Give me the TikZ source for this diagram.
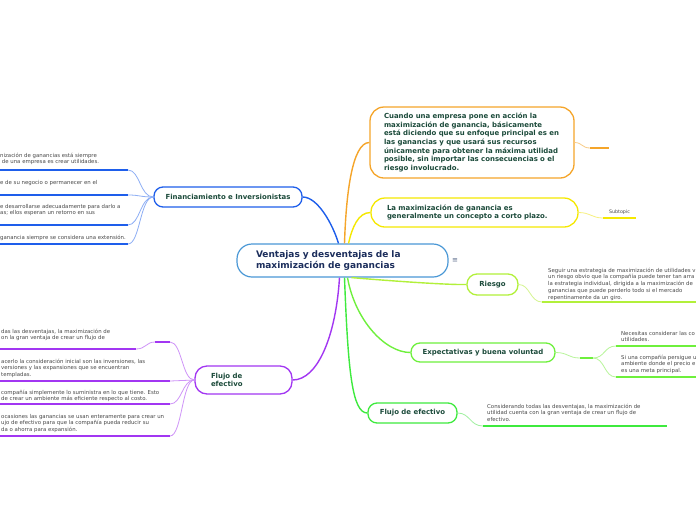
\documentclass[tikz,border=0pt]{standalone}
\usepackage{fontspec}
\setmainfont{DejaVu Sans}
\definecolor{ttxt}{HTML}{1B4A3A}
\definecolor{navy}{HTML}{1C2E5C}
\definecolor{gtxt}{HTML}{4A4A4A}
\definecolor{cblue}{HTML}{4A98D6}
\definecolor{fblue}{HTML}{1E5EEB}
\definecolor{fblueL}{HTML}{8DAEF5}
\definecolor{orng}{HTML}{F5A52A}
\definecolor{orngL}{HTML}{F8CC88}
\definecolor{yel}{HTML}{F5E800}
\definecolor{yelL}{HTML}{F7F080}
\definecolor{lime}{HTML}{B2F03A}
\definecolor{limeL}{HTML}{D5F590}
\definecolor{grn}{HTML}{6EF03C}
\definecolor{grnL}{HTML}{B8F59A}
\definecolor{grn2}{HTML}{3EEA3E}
\definecolor{grn2L}{HTML}{A0F0A0}
\definecolor{purp}{HTML}{A236F2}
\definecolor{purpL}{HTML}{CF94F8}
\definecolor{symb}{HTML}{5A6A8A}
\tikzset{
  topic/.style={draw, fill=white, line width=1.3pt, rounded corners=9pt, inner sep=0pt,
    font=\fontsize{6.95}{8.7}\selectfont\bfseries, text=ttxt, align=center},
  smalltxt/.style={inner sep=0pt, anchor=north west, align=left,
    font=\fontsize{5.4}{6.7}\selectfont, text=gtxt},
  bar/.style={line width=2.2pt},
  conn/.style={line width=1.4pt},
  subconn/.style={line width=0.8pt}
}
\begin{document}
\begin{tikzpicture}[x=1pt,y=-1pt]
\useasboundingbox (0,0) rectangle (696,520);
\fill[white] (0,0) rectangle (696,520);

% main topics
\node[topic, draw=cblue, line width=1.2pt, rounded corners=15pt, minimum width=211pt, minimum height=33pt,
  text width=173pt, align=left, text=navy, font=\fontsize{9}{11}\selectfont\bfseries] (c) at (342.5,260.5)
  {Ventajas y desventajas de la\\maximización de ganancias};
\node[text=symb, font=\fontsize{7}{8}\selectfont, inner sep=0pt] (menu) at (455,261) {≡};

\node[topic, draw=orng, rounded corners=14pt, minimum width=204pt, minimum height=71pt, text width=176pt, align=left] (o) at (472,142.5)
  {Cuando una empresa pone en acción la\\maximización de ganancia, básicamente\\está diciendo que su enfoque principal es en\\las ganancias y que usará sus recursos\\únicamente para obtener la máxima utilidad\\posible, sin importar las consecuencias o el\\riesgo involucrado.};
\node[topic, draw=yel, rounded corners=14pt, minimum width=207pt, minimum height=29pt, text width=175pt, align=left] (y) at (474.5,212.5)
  {La maximización de ganancia es\\generalmente un concepto a corto plazo.};
\node[topic, draw=lime, rounded corners=10pt, minimum width=51pt, minimum height=21pt] (r) at (492.5,284.5) {Riesgo};
\node[topic, draw=grn, minimum width=144pt, minimum height=19pt] (e) at (483,352.5) {Expectativas y buena voluntad};
\node[topic, draw=grn2, minimum width=89pt, minimum height=20pt] (fr) at (412.5,413) {Flujo de efectivo};
\node[topic, draw=fblue, minimum width=148pt, minimum height=20pt] (f) at (228,197) {Financiamiento e Inversionistas};
\node[topic, draw=purp, rounded corners=12pt, minimum width=97pt, minimum height=28pt, text width=65pt, align=left] (fl) at (243.5,380) {Flujo de\\efectivo};

% main connectors
\draw[conn, fblue] ([xshift=-4pt]c.north) .. controls (333,225) and (318,197) .. (f.east);
\draw[conn, orng] ([xshift=2pt]c.north) .. controls (346,195) and (352,142.5) .. (o.west);
\draw[conn, yel] ([xshift=6pt]c.north) .. controls (352,228) and (358,212.5) .. (y.west);
\draw[conn, purp] ([xshift=-3pt]c.south) .. controls (336,335) and (318,380) .. (fl.east);
\draw[conn, grn2] ([xshift=2pt]c.south) .. controls (348,370) and (352,413) .. (fr.west);
\draw[conn, grn] ([xshift=5pt]c.south) .. controls (355,320) and (385,352.5) .. (e.west);
\draw[conn, lime] ([xshift=9pt]c.south) .. controls (380,280) and (445,285) .. (r.west);

% orange subtopic stub
\coordinate (o1) at (590,148);
\coordinate (o1e) at (609,148);
\draw[subconn, orngL] (o.east) .. controls (582,142.5) and (582,148) .. (o1);
\draw[bar, orng] (o1) -- (o1e);

% yellow subtopic
\coordinate (y1) at (603,218);
\coordinate (y1e) at (636,218);
\draw[subconn, yelL] (y.east) .. controls (590,212.5) and (592,218) .. (y1);
\draw[bar, yel] (y1) -- (y1e);
\node[inner sep=0pt, font=\fontsize{4.8}{5}\selectfont, text=gtxt] (ys) at (619.5,212) {Subtopic};

% Riesgo
\coordinate (r1) at (542,302);
\coordinate (r1e) at (696,302);
\draw[subconn, limeL] (r.east) .. controls (530,284.5) and (530,302) .. (r1);
\draw[bar, lime] (r1) -- (r1e);
\node[smalltxt] (rt) at (548,267.7) {Seguir una estrategia de maximización de utilidades v\\un riesgo obvio que la compañía puede tener tan arra\\la estrategia individual, dirigida a la maximización de\\ganancias que puede perderlo todo si el mercado\\repentinamente da un giro.};

% Expectativas
\coordinate (e0) at (580,358);
\coordinate (e0b) at (593,358);
\coordinate (e1) at (616,346);
\coordinate (e1e) at (696,346);
\coordinate (e2) at (616,377);
\coordinate (e2e) at (696,377);
\draw[subconn, grnL] (e.east) .. controls (568,352.5) and (568,358) .. (e0);
\draw[bar, grn] (e0) -- (e0b);
\draw[subconn, grnL] (e0b) .. controls (605,358) and (604,346) .. (e1);
\draw[subconn, grnL] (e0b) .. controls (605,358) and (604,377) .. (e2);
\draw[bar, grn] (e1) -- (e1e);
\draw[bar, grn] (e2) -- (e2e);
\node[smalltxt] (et1) at (621,330.7) {Necesitas considerar las co\\utilidades.};
\node[smalltxt] (et2) at (621,354.7) {Si una compañía persigue u\\ambiente donde el precio e\\es una meta principal.};

% Flujo right
\coordinate (fr1) at (483,426);
\coordinate (fr1e) at (667,426);
\draw[subconn, grn2L] (fr.east) .. controls (470,413) and (470,426) .. (fr1);
\draw[bar, grn2] (fr1) -- (fr1e);
\node[smalltxt] (frt) at (487,403.7) {Considerando todas las desventajas, la maximización de\\utilidad cuenta con la gran ventaja de crear un flujo de\\efectivo.};

% Financiamiento children
\foreach \i/\yy in {1/170,2/195,3/225,4/244}{
  \coordinate (f\i) at (128,\yy);
  \coordinate (f\i s) at (0,\yy);
  \draw[subconn, fblueL] (f.west) .. controls (140,197) and (140,\yy) .. (f\i);
  \draw[bar, fblue] (f\i) -- (f\i s);
}
\node[smalltxt] (ft1) at (0,152.7) {nización de ganancias está siempre\\\ de una empresa es crear utilidades.};
\node[smalltxt] (ft2) at (0,179.7) {e de su negocio o permanecer en el};
\node[smalltxt] (ft3) at (0,203.7) {e desarrollarse adecuadamente para darlo a\\as; ellos esperan un retorno en sus};
\node[smalltxt] (ft4) at (0,234.7) {ganancia siempre se considera una extensión.};

% Flujo left children
\coordinate (p1) at (170,342);
\coordinate (p1b) at (155,342);
\coordinate (p1c) at (136,349);
\coordinate (p1s) at (0,349);
\draw[subconn, purpL] (fl.west) .. controls (182,380) and (182,342) .. (p1);
\draw[bar, purp] (p1) -- (p1b);
\draw[subconn, purpL] (p1b) .. controls (146,342) and (146,349) .. (p1c);
\draw[bar, purp] (p1c) -- (p1s);
\foreach \i/\yy in {2/381,3/404,4/436}{
  \coordinate (p\i) at (170,\yy);
  \coordinate (p\i s) at (0,\yy);
  \draw[subconn, purpL] (fl.west) .. controls (182,380) and (182,\yy) .. (p\i);
  \draw[bar, purp] (p\i) -- (p\i s);
}
\node[smalltxt] (pt1) at (1,328.7) {das las desventajas, la maximización de\\on la gran ventaja de crear un flujo de};
\node[smalltxt] (pt2) at (1,358.7) {acerlo la consideración inicial son las inversiones, las\\versiones y las expansiones que se encuentran\\templadas.};
\node[smalltxt] (pt3) at (1,389.7) {compañía simplemente lo suministra en lo que tiene. Esto\\de crear un ambiente más eficiente respecto al costo.};
\node[smalltxt] (pt4) at (1,413.7) {ocasiones las ganancias se usan enteramente para crear un\\ujo de efectivo para que la compañía pueda reducir su\\da o ahorra para expansión.};
\end{tikzpicture}
\end{document}
